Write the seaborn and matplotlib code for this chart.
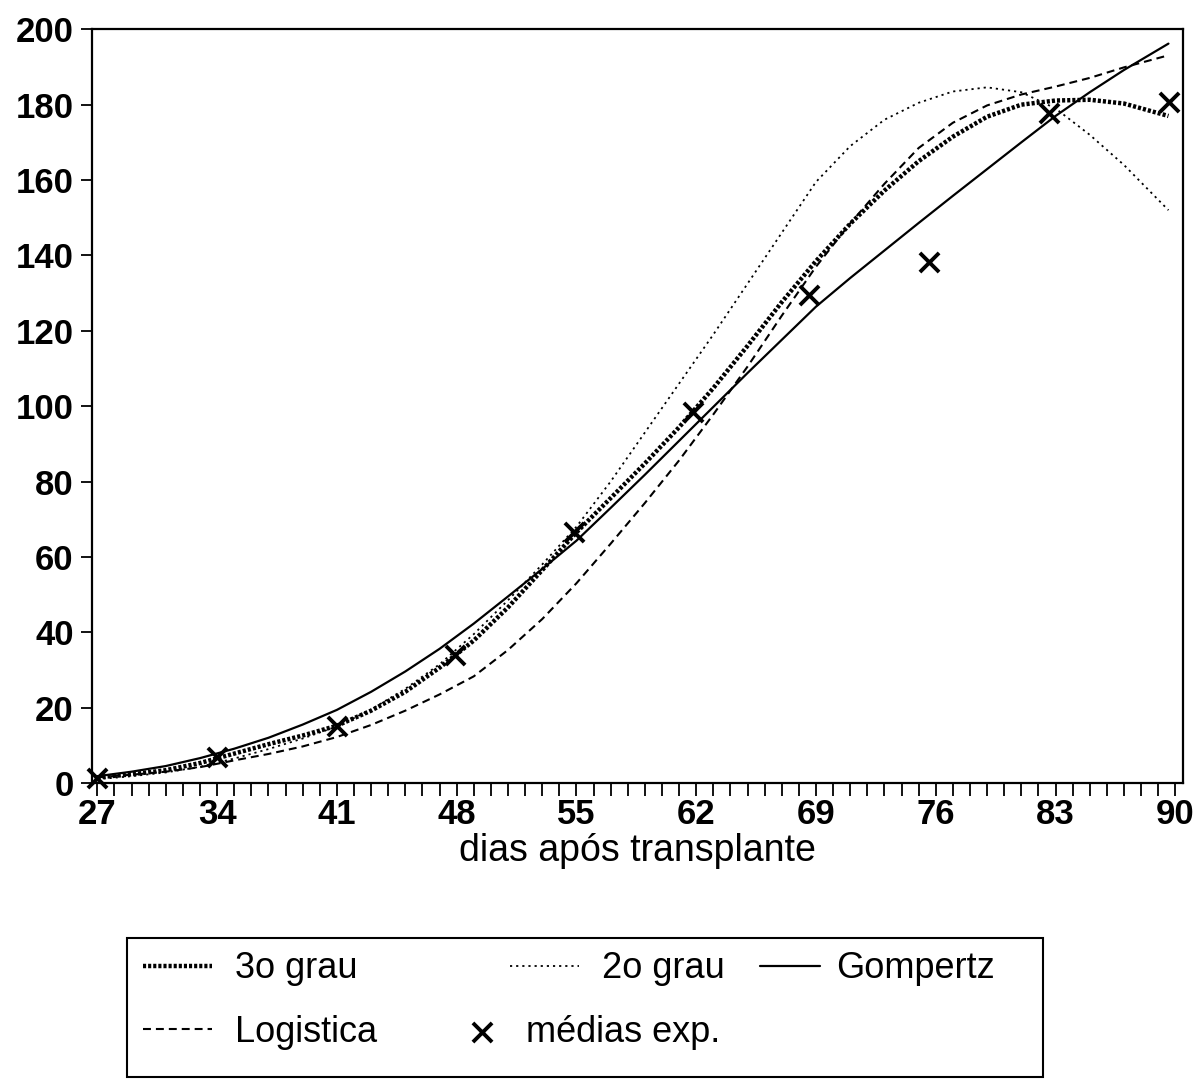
import matplotlib
matplotlib.use("Agg")
import matplotlib.pyplot as plt
import seaborn as sns
from matplotlib.patches import Rectangle
from matplotlib.ticker import FixedLocator, MultipleLocator

# --- data -------------------------------------------------------------
dias_curva = [27, 29, 31, 33, 35, 37, 39, 41, 43, 45, 47, 49, 51, 53, 55, 57,
              59, 61, 63, 65, 67, 69, 71, 73, 75, 77, 79, 81, 83, 85, 87, 89.6]

grau3 = [1.5, 2.3, 3.4, 5.3, 7.8, 10.3, 12.6, 15.2, 19.2, 24.2, 30.6, 37.8,
         46.6, 56.5, 66.5, 75.6, 84.8, 94.4, 104.8, 116.0, 127.6, 138.5, 148.4,
         157.2, 165.0, 171.5, 176.8, 180.0, 181.1, 181.3, 180.3, 177.0]

grau2 = [1.0, 1.8, 2.8, 4.3, 6.5, 9.0, 11.8, 15.0, 19.5, 25.0, 31.5, 39.5,
         48.5, 58.0, 68.0, 80.0, 93.0, 106.0, 119.0, 132.5, 146.0, 159.5,
         169.0, 176.0, 180.5, 183.5, 184.6, 183.3, 179.0, 172.0, 164.0, 152.0]

gompertz = [1.8, 3.0, 4.5, 6.6, 9.1, 12.0, 15.5, 19.4, 24.2, 29.6, 35.6, 42.3,
            49.5, 56.8, 64.3, 73.0, 81.8, 90.8, 99.8, 108.8, 117.6, 126.4,
            134.0, 141.3, 148.6, 155.8, 162.9, 170.0, 177.0, 183.3, 189.2, 196.2]

logistica = [1.5, 2.2, 3.0, 4.2, 6.0, 7.7, 9.7, 12.2, 15.4, 19.2, 23.5, 28.3,
             35.3, 43.5, 53.0, 63.5, 74.3, 85.6, 97.8, 110.5, 124.0, 137.0,
             148.5, 159.0, 168.5, 175.2, 179.8, 182.7, 184.8, 187.1, 189.9, 193.1]

dias_medias = [27, 34, 41, 47.9, 54.85, 61.8, 68.6, 75.6, 82.6, 89.65]
medias_exp = [1.3, 7.0, 15.0, 34.0, 66.6, 98.5, 129.5, 138.3, 177.7, 180.7]

x_ticks = [27, 34, 41, 48, 55, 62, 69, 76, 83, 90]
y_ticks = [0, 20, 40, 60, 80, 100, 120, 140, 160, 180, 200]

# --- style ------------------------------------------------------------
sns.set_theme(style="white")
plt.rcParams["font.family"] = ["Liberation Sans", "DejaVu Sans"]
plt.rcParams["text.color"] = "black"

fig = plt.figure(figsize=(11.96, 10.8), dpi=100)
W, H = 1196, 1080
ax = fig.add_axes([91.7 / W, 1 - 783 / H, (1183 - 91.7) / W, (783 - 29.3) / H])

sns.lineplot(x=dias_curva, y=grau3, ax=ax, color="black", linewidth=3.2,
             linestyle=(0, (0.7, 0.45)), sort=False, estimator=None)
sns.lineplot(x=dias_curva, y=grau2, ax=ax, color="black", linewidth=1.3,
             linestyle=(0, (1.2, 2.2)), sort=False, estimator=None)
sns.lineplot(x=dias_curva, y=gompertz, ax=ax, color="black", linewidth=1.6,
             sort=False, estimator=None)
sns.lineplot(x=dias_curva, y=logistica, ax=ax, color="black", linewidth=1.5,
             linestyle=(0, (3.8, 2.4)), sort=False, estimator=None)
sns.scatterplot(x=dias_medias, y=medias_exp, ax=ax, marker="x", s=190,
                color="black", linewidth=2.8, zorder=5, clip_on=False)

ax.set_xlim(26.67, 90.45)
ax.set_ylim(0, 200)
ax.xaxis.set_major_locator(FixedLocator(x_ticks))
ax.xaxis.set_minor_locator(MultipleLocator(1))
ax.yaxis.set_major_locator(FixedLocator(y_ticks))
ax.tick_params(axis="x", which="both", direction="out", length=9.5, width=1.3,
               bottom=True, color="black", pad=1)
ax.tick_params(axis="y", which="major", direction="out", length=8, width=1.3,
               left=True, color="black", pad=5)
for lab in ax.get_xticklabels() + ax.get_yticklabels():
    lab.set_fontsize(25)
    lab.set_fontweight("bold")
    lab.set_color("black")
for sp in ax.spines.values():
    sp.set_color("black")
    sp.set_linewidth(1.6)

ax.set_xlabel("dias após transplante", fontsize=27, color="black", labelpad=2)
ax.set_ylabel("")

# --- legend -----------------------------------------------------------
lines = ax.get_lines()
marks = ax.collections[0]
entries = [
    (lines[0], "3o grau", 143, 969, 1.9, 0.64),
    (lines[1], "2o grau", 510, 969, 1.9, 0.64),
    (lines[2], "Gompertz", 760, 969, 1.66, 0.44),
    (lines[3], "Logistica", 143, 1032, 1.9, 0.64),
    (marks, "médias exp.", 464, 1032, 1.0, 0.72),
]
for handle, text, px, py, hl, hp in entries:
    leg = fig.legend(handles=[handle], labels=[text], loc="center left",
                     bbox_to_anchor=(px / W, 1 - py / H),
                     bbox_transform=fig.transFigure, frameon=False,
                     fontsize=26, handlelength=hl, handletextpad=hp,
                     borderpad=0, borderaxespad=0)
    for t in leg.get_texts():
        t.set_color("black")

fig.add_artist(Rectangle((127 / W, 1 - 1077 / H), 916 / W, 139 / H,
                         transform=fig.transFigure, fill=False,
                         linewidth=1.5, edgecolor="black"))

fig.savefig("out.png", dpi=100, facecolor="white")
